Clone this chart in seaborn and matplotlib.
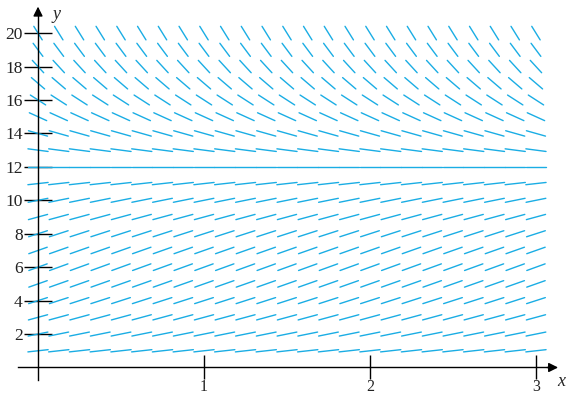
import numpy as np
import pandas as pd
import matplotlib
matplotlib.use("Agg")
import matplotlib.pyplot as plt
import seaborn as sns

# Grid of the slope field
x_centers = [i / 8 for i in range(25)]          # 0, 0.125, ..., 3
y_levels = list(range(1, 21))                   # 1 .. 20
# slope read for each row (autonomous: same across x)
row_slopes = [1.1, 2.0, 2.7, 3.2, 3.5, 3.6, 3.5, 3.2, 2.7, 2.0,
              1.1, 0.0, -1.3, -2.8, -4.5, -6.4, -8.5, -10.8, -13.3, -16.0]
x_ticks = [1, 2, 3]
y_ticks = [2, 4, 6, 8, 10, 12, 14, 16, 18, 20]

sns.set_theme(style="white")
plt.rcParams['font.family'] = ['Liberation Serif', 'DejaVu Serif']

fig = plt.figure(figsize=(5.66, 3.94), dpi=100)
ax = fig.add_axes([0, 0, 1, 1])
ax.set_xlim(-0.229, 3.181)
ax.set_ylim(-1.585, 21.98)

# build segments
half_len = 0.0617
aspect = 23.0 / 166.0
rows = []
seg = 0
for y, m in zip(y_levels, row_slopes):
    hdx = half_len / np.sqrt(1 + (m * aspect) ** 2)
    for x in x_centers:
        rows.append((seg, x - hdx, y - m * hdx))
        rows.append((seg, x + hdx, y + m * hdx))
        seg += 1
df = pd.DataFrame(rows, columns=["seg", "x", "y"])
sns.lineplot(data=df, x="x", y="y", units="seg", estimator=None,
             sort=False, color="#1AADE4", linewidth=1.0, ax=ax, legend=False)

# axes as spines through the origin
for s in ["top", "right"]:
    ax.spines[s].set_visible(False)
ax.spines["left"].set_position(("data", 0))
ax.spines["bottom"].set_position(("data", 0))
ax.spines["left"].set_bounds(-0.75, 21.3)
ax.spines["bottom"].set_bounds(-0.12, 3.1)
for s in ["left", "bottom"]:
    ax.spines[s].set_color("black")
    ax.spines[s].set_linewidth(1.0)
    ax.spines[s].set_zorder(3)

ax.set_xticks(x_ticks)
ax.set_yticks(y_ticks)
ax.set_xticklabels([str(t) for t in x_ticks])
ax.set_yticklabels([str(t) for t in y_ticks])
ax.tick_params(axis="both", bottom=True, left=True, direction="inout",
               width=1.0, color="black", labelcolor="#222222")
ax.tick_params(axis="x", length=17, pad=0, labelsize=11.5)
ax.tick_params(axis="y", length=20, pad=1, labelsize=12.5)
ax.set_xlabel("")
ax.set_ylabel("")

# arrow heads
ax.annotate("", xy=(3.15, 0), xytext=(3.05, 0),
            arrowprops=dict(arrowstyle="-|>", color="black", lw=1.0,
                            mutation_scale=14))
ax.annotate("", xy=(0, 21.75), xytext=(0, 20.9),
            arrowprops=dict(arrowstyle="-|>", color="black", lw=1.0,
                            mutation_scale=14))
ax.text(3.155, -0.85, "x", fontsize=13, style="italic", ha="center", va="center")
ax.text(0.085, 21.1, "y", fontsize=13, style="italic", ha="left", va="center")

fig.savefig("out.png", dpi=100)
